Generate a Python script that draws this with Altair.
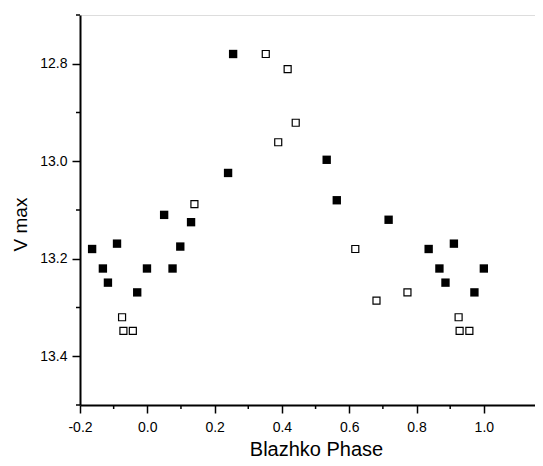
import altair as alt
import pandas as pd

# Filled squares (series 1)
filled_x = [-0.164, -0.132, -0.117, -0.090, -0.030, -0.001, 0.050, 0.075, 0.098, 0.130,
            0.240, 0.255, 0.533, 0.563, 0.717, 0.836, 0.868, 0.886, 0.911, 0.972, 1.000]
filled_y = [13.18, 13.22, 13.249, 13.169, 13.269, 13.22, 13.11, 13.22, 13.175, 13.125,
            13.024, 12.78, 12.997, 13.08, 13.12, 13.18, 13.22, 13.249, 13.169, 13.269, 13.22]

# Open squares (series 2)
open_x = [-0.075, -0.071, -0.043, 0.140, 0.352, 0.389, 0.417, 0.441, 0.618, 0.681,
          0.773, 0.925, 0.928, 0.957]
open_y = [13.32, 13.348, 13.348, 13.088, 12.78, 12.961, 12.811, 12.921, 13.18, 13.286,
          13.269, 13.32, 13.348, 13.348]

x_major = [-0.2, 0.0, 0.2, 0.4, 0.6, 0.8, 1.0]
x_minor = [-0.1, 0.1, 0.3, 0.5, 0.7, 0.9]
y_major = [12.8, 13.0, 13.2, 13.4]
y_minor = [12.7, 12.9, 13.1, 13.3, 13.5]

X_DOMAIN = [-0.2, 1.152]
Y_DOMAIN = [12.7, 13.5]
W, H = 455, 390
FONT = "Liberation Sans"

df_f = pd.DataFrame({"phase": filled_x, "vmax": filled_y})
df_o = pd.DataFrame({"phase": open_x, "vmax": open_y})
df_xm = pd.DataFrame({"phase": x_minor})
df_ym = pd.DataFrame({"vmax": y_minor})

lbl = "datum.value < 0 ? '-' + format(-datum.value, '.1f') : format(datum.value, '.1f')"

xscale = alt.Scale(domain=X_DOMAIN, nice=False, zero=False)
yscale = alt.Scale(domain=Y_DOMAIN, nice=False, zero=False, reverse=True)

xaxis = alt.Axis(values=x_major, labelExpr=lbl, title="Blazhko Phase", grid=False,
                 labelFlush=False,
                 tickSize=8, tickWidth=1.5, domainWidth=2, domainColor="black",
                 tickColor="black", labelColor="black", labelFont=FONT, labelFontSize=14,
                 labelPadding=7, titleFont=FONT, titleFontSize=20, titleFontWeight="normal",
                 titleColor="black", titleX=236, titleY=50, titleBaseline="alphabetic",
                 titleAlign="center")
yaxis = alt.Axis(values=y_major, format=".1f", title="V max", grid=False,
                 labelFlush=False,
                 tickSize=8, tickWidth=1.5, domainWidth=2, domainColor="black",
                 tickColor="black", labelColor="black", labelFont=FONT, labelFontSize=14,
                 labelPadding=5, titleFont=FONT, titleFontSize=19, titleFontWeight="normal",
                 titleColor="black", titleX=-60, titleY=209, titleAngle=270,
                 titleAlign="center", titleBaseline="middle")

filled = alt.Chart(df_f).mark_square(filled=True, color="black", size=70, opacity=1).encode(
    x=alt.X("phase:Q", scale=xscale, axis=xaxis),
    y=alt.Y("vmax:Q", scale=yscale, axis=yaxis),
)
opened = alt.Chart(df_o).mark_square(filled=False, stroke="black", fill="white",
                                     strokeWidth=1.2, size=49, opacity=1).encode(
    x=alt.X("phase:Q", scale=xscale),
    y=alt.Y("vmax:Q", scale=yscale),
)
xminor = alt.Chart(df_xm).mark_rule(color="black", strokeWidth=1.5).encode(
    x=alt.X("phase:Q", scale=xscale),
    y=alt.value(H), y2=alt.value(H + 4),
)
yminor = alt.Chart(df_ym).mark_rule(color="black", strokeWidth=1.5).encode(
    y=alt.Y("vmax:Q", scale=yscale),
    x=alt.value(0), x2=alt.value(-4),
)

chart = alt.layer(xminor, yminor, opened, filled).properties(
    width=W, height=H,
    autosize=alt.AutoSizeParams(type="none"),
    padding={"left": 72, "top": 7, "right": 0, "bottom": 53},
).configure_view(stroke=None).configure(background="white")

chart.save("out.html", embed_options={"renderer": "svg", "actions": False})
